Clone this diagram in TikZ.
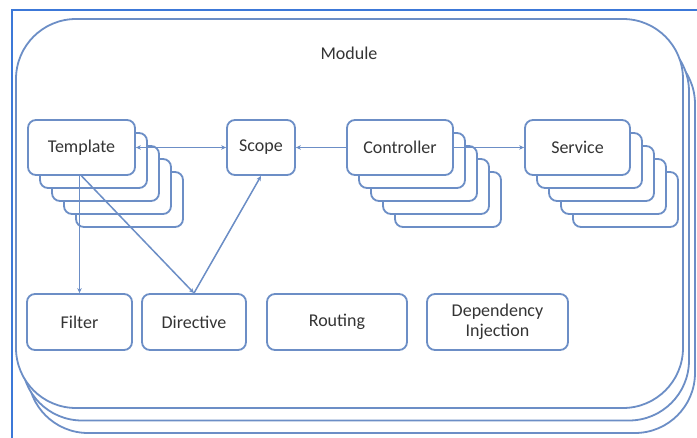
\documentclass[tikz,border=0pt]{standalone}
\usepackage{fontspec}
\setmainfont{Carlito}
\usepackage{tikz}
\usetikzlibrary{arrows.meta}

\definecolor{frameblue}{RGB}{60,120,216}
\definecolor{boxblue}{RGB}{108,142,198}
\definecolor{textgray}{RGB}{52,52,52}

\tikzset{
  card/.style={draw=boxblue, line width=1.8pt, fill=white, rounded corners=8pt,
    minimum height=55pt, inner sep=0pt, align=center, text=textgray,
    font=\fontsize{18}{20}\selectfont},
  modbox/.style={draw=boxblue, line width=1.8pt, fill=white, rounded corners=60pt,
    minimum width=667pt, minimum height=389pt, inner sep=0pt},
  link/.style={draw=boxblue, line width=1.5pt, ->}
}

\begin{document}
\begin{tikzpicture}[x=1pt,y=-1pt,>={Stealth[length=5pt,width=4.5pt]}]
        \useasboundingbox (0,0) rectangle (697,438);
        \draw[frameblue,line width=1.8pt] (12,438) -- (12,10) -- (697,10);
        \foreach \k in {2,1}
            \node[modbox] (mod\k) at (349.5+6*\k,213.5+12.5*\k) {};
        \node[modbox] (module) at (349.5,213.5) {};
        \node[text=textgray,font=\fontsize{18}{20}\selectfont] (modname) at (349,53) {Module};
        \foreach \k in {4,3,2,1} {
            \node[card,minimum width=107pt] (tpl\k) at (81.5+12*\k,147.5+13*\k) {};
            \node[card,minimum width=106pt] (ctl\k) at (400+12*\k,147.5+13*\k) {};
            \node[card,minimum width=105pt] (srv\k) at (577.5+12*\k,147.5+13*\k) {};
        }
        \node[card,minimum width=107pt] (template) at (81.5,147.5) {Template};
        \node[card,minimum width=68pt] (scope) at (261,147.5) {Scope};
        \node[card,minimum width=106pt] (controller) at (400,147.5) {Controller};
        \node[card,minimum width=105pt] (service) at (577.5,147.5) {Service};
        \node[card,minimum width=105pt,minimum height=56pt] (filter) at (79.5,322) {Filter};
        \node[card,minimum width=104pt,minimum height=56pt] (directive) at (194,322) {Directive};
        \node[card,minimum width=140pt,minimum height=56pt] (routing) at (337,322) {Routing};
        \node[card,minimum width=141pt,minimum height=56pt] (injection) at (497.5,322) {Dependency\\Injection};
        \draw[link,<->] (template) -- (scope);
        \draw[link] (controller) -- (scope);
        \draw[link] (controller) -- (service);
        \draw[link] (filter.north |- template.south) -- (filter.north);
        \draw[link] (template.south) -- (directive.north);
        \draw[link] (directive.north) -- (scope.south);
    \end{tikzpicture}
\end{document}
